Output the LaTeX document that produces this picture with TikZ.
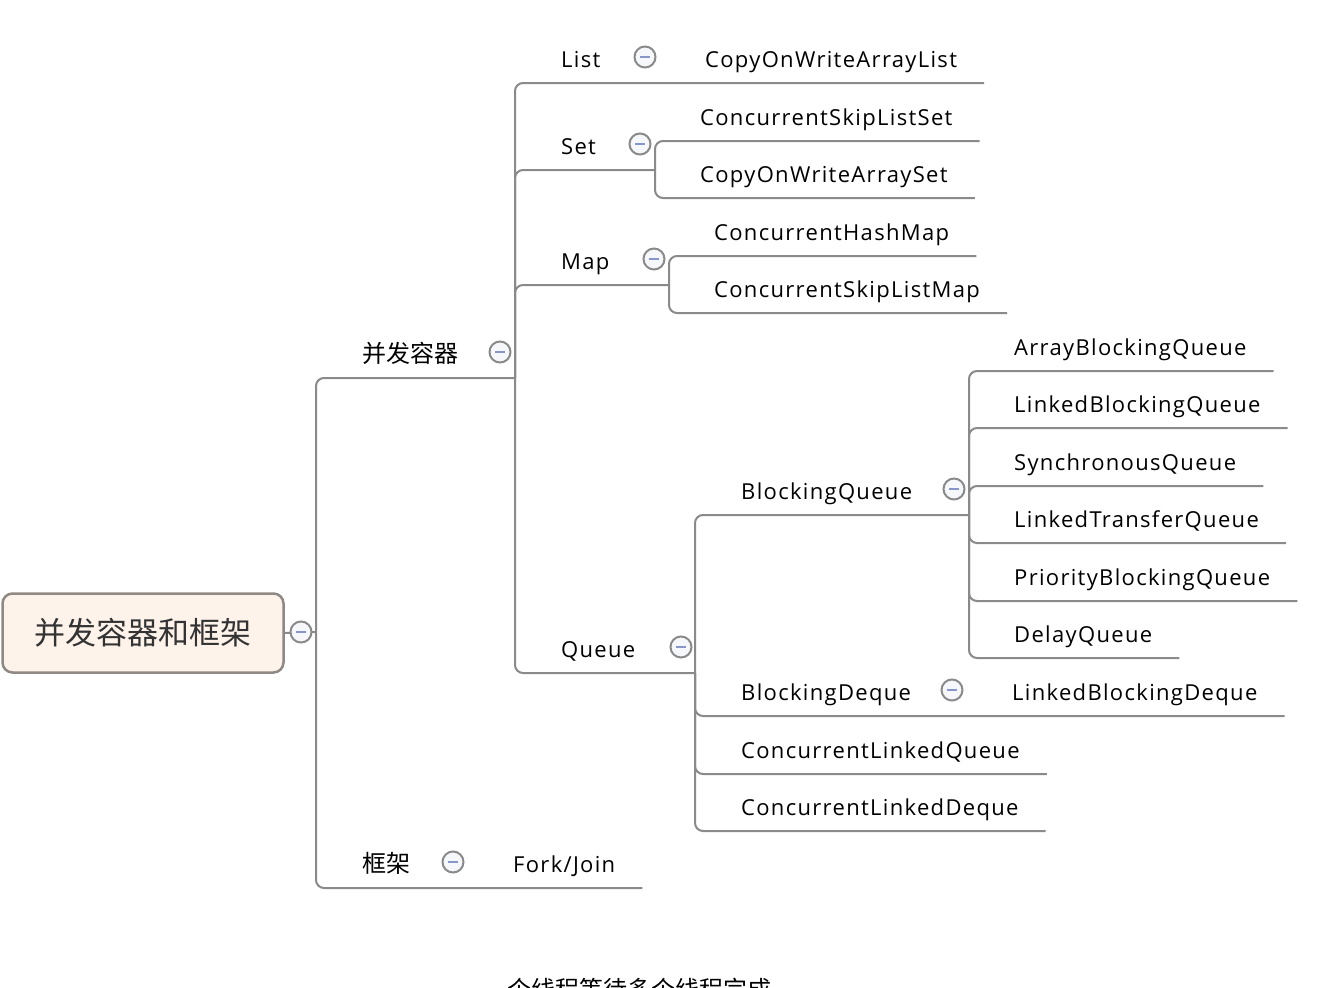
\documentclass[tikz,border=0pt]{standalone}
\usepackage{fontspec}
\setmainfont{Open Sans}[LetterSpace=6]
\newfontfamily\cjk{Noto Sans CJK SC}
\definecolor{colline}{RGB}{138,138,138}
\definecolor{colroot}{RGB}{253,243,234}
\definecolor{colrootedge}{RGB}{142,137,132}
\definecolor{colminus}{RGB}{136,149,200}
\definecolor{colfold}{RGB}{246,247,251}
\usetikzlibrary{
	positioning
}
\tikzset{
	branch/.style={line width=2pt, color=colline, rounded corners=8pt},
	topic/.style={anchor=base west, inner sep=0pt, font=\fontsize{22}{26}\selectfont},
	cntopic/.style={topic, font=\cjk\fontsize{24}{28}\selectfont},
	rootnode/.style={draw=colrootedge, line width=2.5pt, fill=colroot, rounded corners=10pt,
		minimum width=281pt, minimum height=79pt, text=black!80,
		font=\cjk\fontsize{31}{36}\selectfont},
	fold/.style={circle, draw=colline, line width=2pt, fill=colfold, minimum size=21pt, inner sep=0pt,
		path picture={\draw[colminus, line width=2pt]
			([xshift=-5pt]path picture bounding box.center) -- ([xshift=5pt]path picture bounding box.center);}}
}

\begin{document}
\begin{tikzpicture}[x=1pt, y=-1pt]
	\useasboundingbox (0,0) rectangle (1326,988);

	% root
	\node[rootnode] (root) at (143,633) {并发容器和框架};
	\coordinate (root-j) at (316,632);

	% first level
	\node[cntopic] (bf) at (362,362) {并发容器};
	\coordinate (bf-j) at (515,378);
	\node[cntopic] (kj) at (362,872) {框架};
	\node[topic] (fj) at (513,872) {Fork/Join};

	% 并发容器
	\node[topic] (list) at (561,67) {List};
	\node[topic] (cowal) at (705,67) {CopyOnWriteArrayList};
	\node[topic] (set) at (561,154) {Set};
	\coordinate (set-j) at (655,170);
	\node[topic] (csls) at (700,125) {ConcurrentSkipListSet};
	\node[topic] (cowas) at (700,182) {CopyOnWriteArraySet};
	\node[topic] (map) at (561,269) {Map};
	\coordinate (map-j) at (669,285);
	\node[topic] (chm) at (714,240) {ConcurrentHashMap};
	\node[topic] (cslm) at (714,297) {ConcurrentSkipListMap};
	\node[topic] (queue) at (561,657) {Queue};
	\coordinate (queue-j) at (695,673);

	% Queue
	\node[topic] (bq) at (741,499) {BlockingQueue};
	\coordinate (bq-j) at (969,515);
	\node[topic] (abq) at (1014,355) {ArrayBlockingQueue};
	\node[topic] (lbq) at (1014,412) {LinkedBlockingQueue};
	\node[topic] (sq) at (1014,470) {SynchronousQueue};
	\node[topic] (ltq) at (1014,527) {LinkedTransferQueue};
	\node[topic] (pbq) at (1014,585) {PriorityBlockingQueue};
	\node[topic] (dq) at (1014,642) {DelayQueue};
	\node[topic] (bd) at (741,700) {BlockingDeque};
	\node[topic] (lbd) at (1012,700) {LinkedBlockingDeque};
	\node[topic] (clq) at (741,758) {ConcurrentLinkedQueue};
	\node[topic] (cld) at (741,815) {ConcurrentLinkedDeque};

	% underline ends
	\coordinate (fj-u) at ([shift={(27pt,-16pt)}]fj.base east);
	\coordinate (cowal-u) at ([shift={(27pt,-16pt)}]cowal.base east);
	\coordinate (csls-u) at ([shift={(27pt,-16pt)}]csls.base east);
	\coordinate (cowas-u) at ([shift={(27pt,-16pt)}]cowas.base east);
	\coordinate (chm-u) at ([shift={(27pt,-16pt)}]chm.base east);
	\coordinate (cslm-u) at ([shift={(27pt,-16pt)}]cslm.base east);
	\coordinate (abq-u) at ([shift={(27pt,-16pt)}]abq.base east);
	\coordinate (lbq-u) at ([shift={(27pt,-16pt)}]lbq.base east);
	\coordinate (sq-u) at ([shift={(27pt,-16pt)}]sq.base east);
	\coordinate (ltq-u) at ([shift={(27pt,-16pt)}]ltq.base east);
	\coordinate (pbq-u) at ([shift={(27pt,-16pt)}]pbq.base east);
	\coordinate (dq-u) at ([shift={(27pt,-16pt)}]dq.base east);
	\coordinate (lbd-u) at ([shift={(27pt,-16pt)}]lbd.base east);
	\coordinate (clq-u) at ([shift={(27pt,-16pt)}]clq.base east);
	\coordinate (cld-u) at ([shift={(27pt,-16pt)}]cld.base east);

	\draw[branch] (root.east) -- (root-j);
	\draw[branch] (root-j) |- (bf-j);
	\draw[branch] (root-j) |- (fj-u);

	\draw[branch] (bf-j) |- (cowal-u);
	\draw[branch] (bf-j) |- (set-j);
	\draw[branch] (bf-j) |- (map-j);
	\draw[branch] (bf-j) |- (queue-j);

	\draw[branch] (set-j) |- (csls-u);
	\draw[branch] (set-j) |- (cowas-u);
	\draw[branch] (map-j) |- (chm-u);
	\draw[branch] (map-j) |- (cslm-u);

	\draw[branch] (queue-j) |- (bq-j);
	\draw[branch] (queue-j) |- (lbd-u);
	\draw[branch] (queue-j) |- (clq-u);
	\draw[branch] (queue-j) |- (cld-u);

	\draw[branch] (bq-j) |- (abq-u);
	\draw[branch] (bq-j) |- (lbq-u);
	\draw[branch] (bq-j) |- (sq-u);
	\draw[branch] (bq-j) |- (ltq-u);
	\draw[branch] (bq-j) |- (pbq-u);
	\draw[branch] (bq-j) |- (dq-u);

	% fold marks
	\node[fold] (root-f) at (301,632) {};
	\node[fold] (bf-f) at (500,352) {};
	\node[fold] (kj-f) at (453,862) {};
	\node[fold] (list-f) at (645,57) {};
	\node[fold] (set-f) at (640,144) {};
	\node[fold] (map-f) at (654,259) {};
	\node[fold] (queue-f) at (681,647) {};
	\node[fold] (bq-f) at (954,489) {};
	\node[fold] (bd-f) at (952,690) {};

	\node[anchor=base, inner sep=0pt, font=\cjk\fontsize{24}{28}\selectfont] (next) at (639,998) {个线程等待多个线程完成};
\end{tikzpicture}
\end{document}
